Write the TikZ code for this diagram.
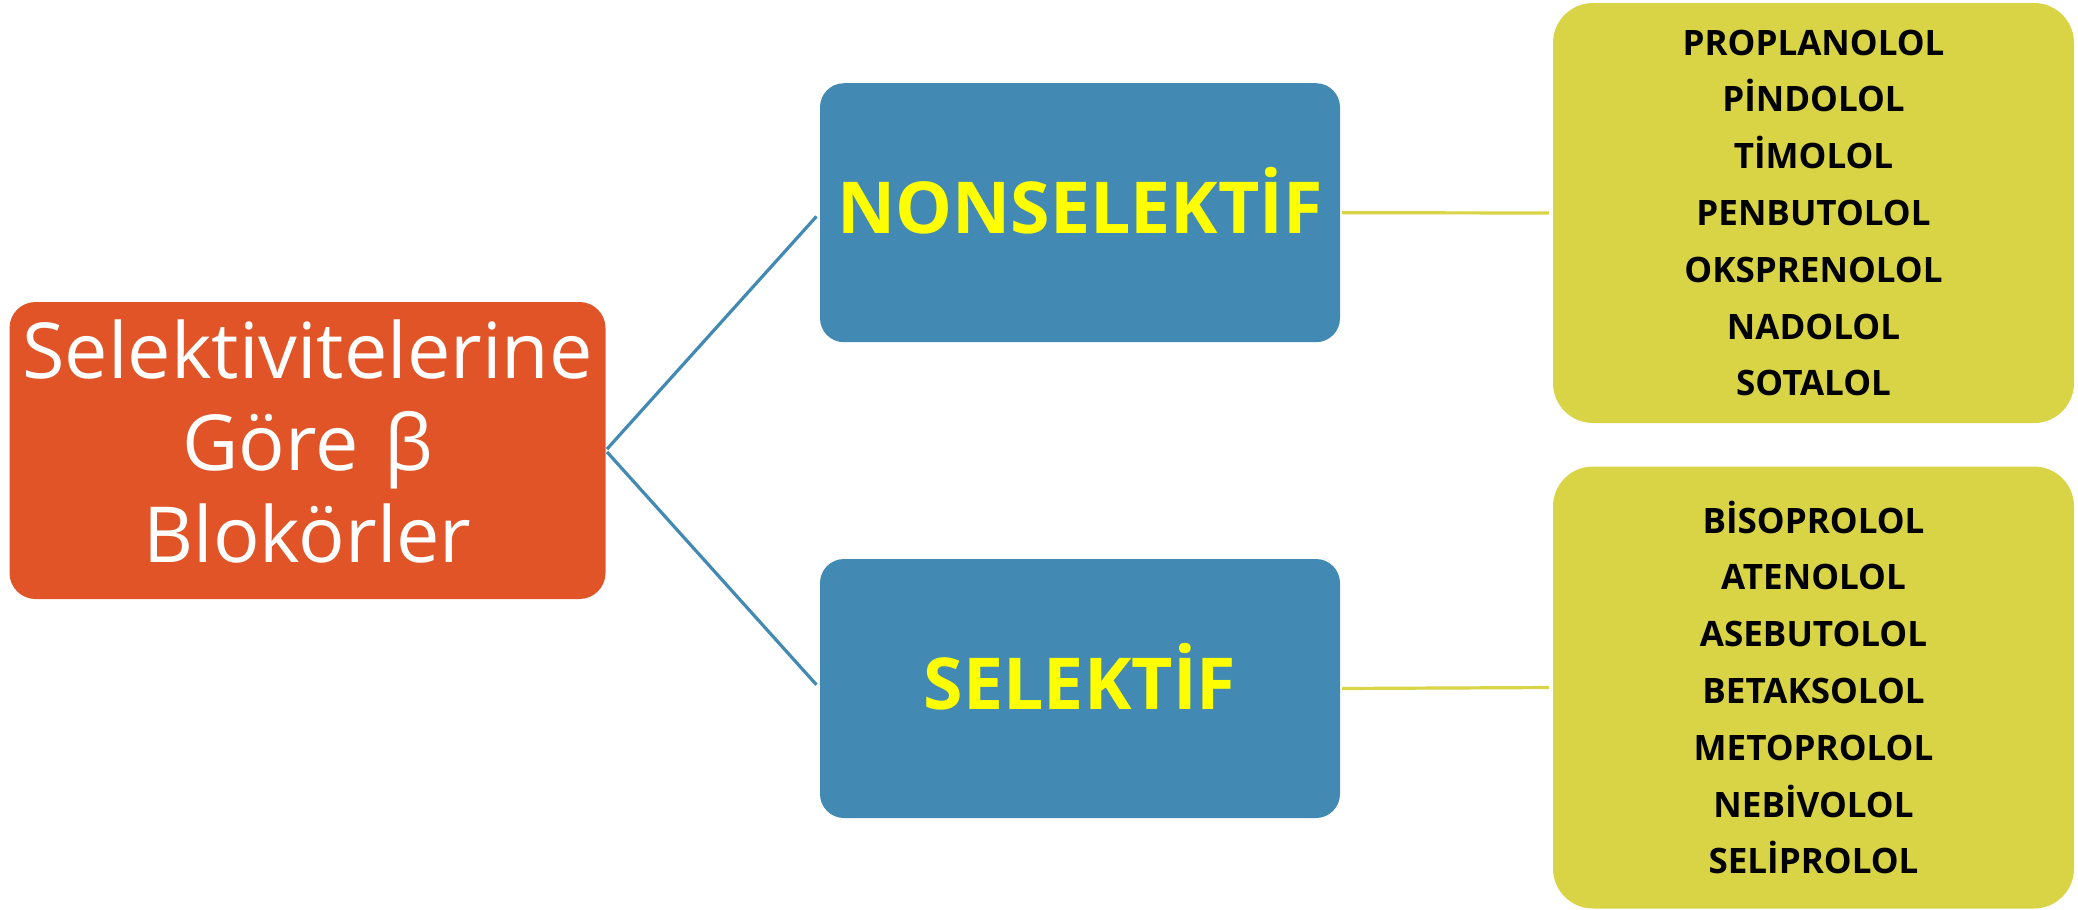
\documentclass[tikz,border=0pt]{standalone}
\usepackage{fontspec}
\setmainfont{Open Sans}
\definecolor{orangebox}{HTML}{E05427}
\definecolor{bluebox}{HTML}{428AB3}
\definecolor{greenbox}{HTML}{D8D445}
\definecolor{yellowtxt}{HTML}{FFFF00}
\begin{document}
\begin{tikzpicture}[x=1pt,y=-1pt,
  rootbox/.style={rectangle,rounded corners=26pt,fill=orangebox,text=white,
    minimum width=596pt,minimum height=297pt,inner sep=0pt,align=center,
    text width=590pt,font=\fontsize{77.3}{92}\selectfont},
  catbox/.style={rectangle,rounded corners=24pt,fill=bluebox,text=yellowtxt,
    minimum width=520pt,minimum height=259pt,inner sep=0pt,align=center,
    text height=50pt,text depth=0pt,
    font=\fontsize{71.6}{80}\selectfont\bfseries},
  listbox/.style={rectangle,rounded corners=40pt,fill=greenbox,text=black,
    minimum width=521pt,inner sep=0pt,align=center,
    font=\fontsize{35}{56.8}\selectfont\bfseries},
  bline/.style={draw=bluebox,line width=3.2pt,shorten <=2pt,shorten >=5pt},
  gline/.style={draw=greenbox,line width=3.2pt,shorten <=2pt,shorten >=4pt}]
\useasboundingbox (0,0) rectangle (2078,910);
\node[rootbox] (root) at (307.5,450.5) {\raisebox{9pt}[\height][\depth]{\parbox{590pt}{\centering Selektivitelerine\\Göre β\\Blokörler}}};
\node[catbox] (non) at (1080,212.7) {\raisebox{4pt}{NONSELEKTİF}};
\node[catbox] (sel) at (1080,688.5) {\raisebox{4pt}{SELEKTİF}};
\node[listbox,minimum height=420pt] (l1) at (1813.5,213)
  {PROPLANOLOL\\PİNDOLOL\\TİMOLOL\\PENBUTOLOL\\OKSPRENOLOL\\NADOLOL\\SOTALOL};
\node[listbox,minimum height=442pt] (l2) at (1813.5,687.5)
  {BİSOPROLOL\\ATENOLOL\\ASEBUTOLOL\\BETAKSOLOL\\METOPROLOL\\NEBİVOLOL\\SELİPROLOL};
\draw[bline] (root.east) -- (non.west);
\draw[bline] (root.east) -- (sel.west);
\draw[gline] (non.east) -- (l1.west);
\draw[gline] (sel.east) -- (l2.west);
\end{tikzpicture}
\end{document}
